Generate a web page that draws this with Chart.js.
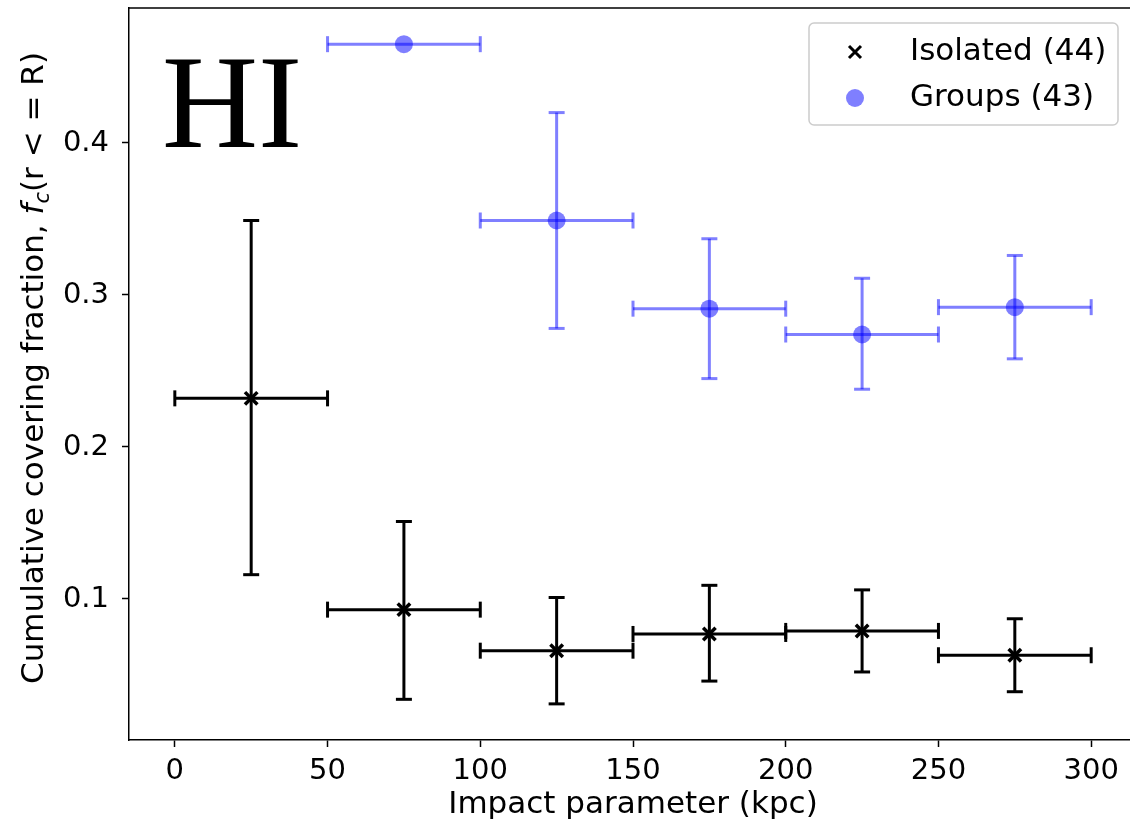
<!DOCTYPE html>
<html>
<head>
<meta charset="utf-8">
<script src="https://cdn.jsdelivr.net/npm/chart.js@4.4.1/dist/chart.umd.min.js"></script>
<style>
    html, body { margin: 0; padding: 0; background: #fff; overflow: hidden; }
    #caixa { position: relative; width: 1140px; height: 827px; }
    #grafico { display: block; width: 1140px; height: 827px; }
</style>
</head>
<body>
<div id="caixa"><canvas id="grafico" width="1140" height="827"></canvas></div>
<script>
// bins de 50 kpc, centro de cada bin
const halfBin = 25;
const isoCentres = [25, 75, 125, 175, 225, 275];
const isoFrac = [0.232, 0.093, 0.066, 0.077, 0.079, 0.063];
const isoLow = [0.116, 0.034, 0.031, 0.046, 0.052, 0.039];
const isoHigh = [0.349, 0.151, 0.101, 0.109, 0.106, 0.087];

const grpCentres = [75, 125, 175, 225, 275];
const grpFrac = [0.465, 0.349, 0.291, 0.274, 0.292];
const grpLow = [0.465, 0.278, 0.245, 0.238, 0.258];
const grpHigh = [0.465, 0.420, 0.337, 0.311, 0.326];

const xTicks = [0, 50, 100, 150, 200, 250, 300];
const yTicks = [0.1, 0.2, 0.3, 0.4];

const seriesLabels = ['Isolated (44)', 'Groups (43)'];
const blue = 'rgba(0, 0, 255, 0.5)';
const FONT = '"DejaVu Sans"';

const toPoints = (xs, ys) => xs.map((x, i) => ({ x: x, y: ys[i] }));

// barras de erro desenhadas antes dos marcadores de cada serie
const errorBars = {
    id: 'errorBars',
    beforeDatasetDraw(chart, args) {
        const ds = chart.data.datasets[args.index];
        const sx = chart.scales.x, sy = chart.scales.y;
        const ctx = chart.ctx;
        const cap = 8;
        ctx.save();
        ctx.strokeStyle = ds.errColor;
        ctx.lineWidth = 3;
        const seg = (x0, y0, x1, y1) => {
            ctx.beginPath();
            ctx.moveTo(x0, y0);
            ctx.lineTo(x1, y1);
            ctx.stroke();
        };
        ds.data.forEach((p, i) => {
            const px = sx.getPixelForValue(p.x);
            const py = sy.getPixelForValue(p.y);
            const xl = sx.getPixelForValue(p.x - halfBin);
            const xr = sx.getPixelForValue(p.x + halfBin);
            seg(xl, py, xr, py);
            seg(xl, py - cap, xl, py + cap);
            seg(xr, py - cap, xr, py + cap);
            if (ds.errHigh[i] > ds.errLow[i]) {
                const yt = sy.getPixelForValue(ds.errHigh[i]);
                const yb = sy.getPixelForValue(ds.errLow[i]);
                seg(px, yt, px, yb);
                seg(px - cap, yt, px + cap, yt);
                seg(px - cap, yb, px + cap, yb);
            }
        });
        ctx.restore();
    }
};

// moldura, titulo do eixo y, rotulo HI e legenda
const decorations = {
    id: 'decorations',
    afterDraw(chart) {
        const ctx = chart.ctx;
        const a = chart.chartArea;
        ctx.save();

        ctx.strokeStyle = '#000';
        ctx.lineWidth = 1.5;
        ctx.beginPath();
        ctx.moveTo(a.left, a.top);
        ctx.lineTo(a.right, a.top);
        ctx.lineTo(a.right, a.bottom);
        ctx.stroke();

        ctx.fillStyle = '#000';
        ctx.font = '133px "Liberation Serif"';
        ctx.textBaseline = 'alphabetic';
        ctx.textAlign = 'left';
        ctx.fillText('HI', 162, 147);

        // titulo y com f_c
        const parts = [
            { t: 'Cumulative covering fraction, ', font: `31px ${FONT}`, dy: 0 },
            { t: 'f', font: `italic 31px ${FONT}`, dy: 0 },
            { t: 'c', font: `italic 21px ${FONT}`, dy: 6 },
            { t: '(r < = R)', font: `31px ${FONT}`, dy: 0 },
        ];
        let total = 0;
        parts.forEach(p => { ctx.font = p.font; p.w = ctx.measureText(p.t).width; total += p.w; });
        ctx.translate(43, 368);
        ctx.rotate(-Math.PI / 2);
        let u = -total / 2;
        parts.forEach(p => {
            ctx.font = p.font;
            ctx.fillText(p.t, u, p.dy);
            u += p.w;
        });
        ctx.setTransform(1, 0, 0, 1, 0, 0);

        // legenda
        const bx = 809, by = 23, bw = 309, bh = 102;
        ctx.beginPath();
        ctx.roundRect(bx, by, bw, bh, 5);
        ctx.fillStyle = 'rgba(255,255,255,0.8)';
        ctx.fill();
        ctx.strokeStyle = '#cccccc';
        ctx.lineWidth = 1.5;
        ctx.stroke();

        ctx.strokeStyle = '#000';
        ctx.lineWidth = 3;
        const mx = 855, my1 = 52, my2 = 98, r = 6;
        ctx.beginPath();
        ctx.moveTo(mx - r, my1 - r); ctx.lineTo(mx + r, my1 + r);
        ctx.moveTo(mx - r, my1 + r); ctx.lineTo(mx + r, my1 - r);
        ctx.stroke();
        ctx.fillStyle = blue;
        ctx.beginPath();
        ctx.arc(mx, my2, 9, 0, Math.PI * 2);
        ctx.fill();

        ctx.fillStyle = '#000';
        ctx.font = `31px ${FONT}`;
        ctx.textBaseline = 'middle';
        ctx.fillText(seriesLabels[0], 910, my1);
        ctx.fillText(seriesLabels[1], 910, my2);
        ctx.restore();
    }
};

const tickFont = { family: FONT, size: 29 };

new Chart(document.getElementById('grafico'), {
    type: 'scatter',
    data: {
        datasets: [
            {
                label: seriesLabels[0],
                data: toPoints(isoCentres, isoFrac),
                errLow: isoLow,
                errHigh: isoHigh,
                errColor: '#000',
                pointStyle: 'crossRot',
                pointRadius: 8.8,
                pointBorderWidth: 3.5,
                pointBorderColor: '#000',
                pointBackgroundColor: '#000',
            },
            {
                label: seriesLabels[1],
                data: toPoints(grpCentres, grpFrac),
                errLow: grpLow,
                errHigh: grpHigh,
                errColor: blue,
                pointStyle: 'circle',
                pointRadius: 9,
                pointBorderWidth: 0,
                pointBackgroundColor: blue,
            }
        ]
    },
    options: {
        responsive: false,
        animation: false,
        layout: { autoPadding: false, padding: { left: 0, right: 3, top: 8, bottom: 0 } },
        plugins: {
            legend: { display: false },
            tooltip: { enabled: false }
        },
        scales: {
            x: {
                type: 'linear',
                min: -15,
                max: 315,
                afterBuildTicks: s => { s.ticks = xTicks.map(v => ({ value: v })); },
                afterFit: s => { s.height = 87; s.paddingLeft = 0; s.paddingRight = 0; },
                grid: { drawOnChartArea: false, tickLength: 7, tickWidth: 1.5, tickColor: '#000' },
                border: { color: '#000', width: 1.5 },
                ticks: { color: '#000', font: tickFont, padding: 7, maxRotation: 0 },
                title: {
                    display: true,
                    text: 'Impact parameter (kpc)',
                    color: '#000',
                    font: { family: FONT, size: 31 },
                    padding: { top: 0, bottom: 3 }
                }
            },
            y: {
                type: 'linear',
                min: 0.00724,
                max: 0.4888,
                afterBuildTicks: s => { s.ticks = yTicks.map(v => ({ value: v })); },
                afterFit: s => { s.width = 129; s.paddingTop = 0; s.paddingBottom = 0; },
                grid: { drawOnChartArea: false, tickLength: 7, tickWidth: 1.5, tickColor: '#000' },
                border: { color: '#000', width: 1.5 },
                ticks: {
                    color: '#000',
                    font: tickFont,
                    padding: 13,
                    callback: v => v.toFixed(1)
                }
            }
        }
    },
    plugins: [errorBars, decorations]
});
</script>
</body>
</html>
